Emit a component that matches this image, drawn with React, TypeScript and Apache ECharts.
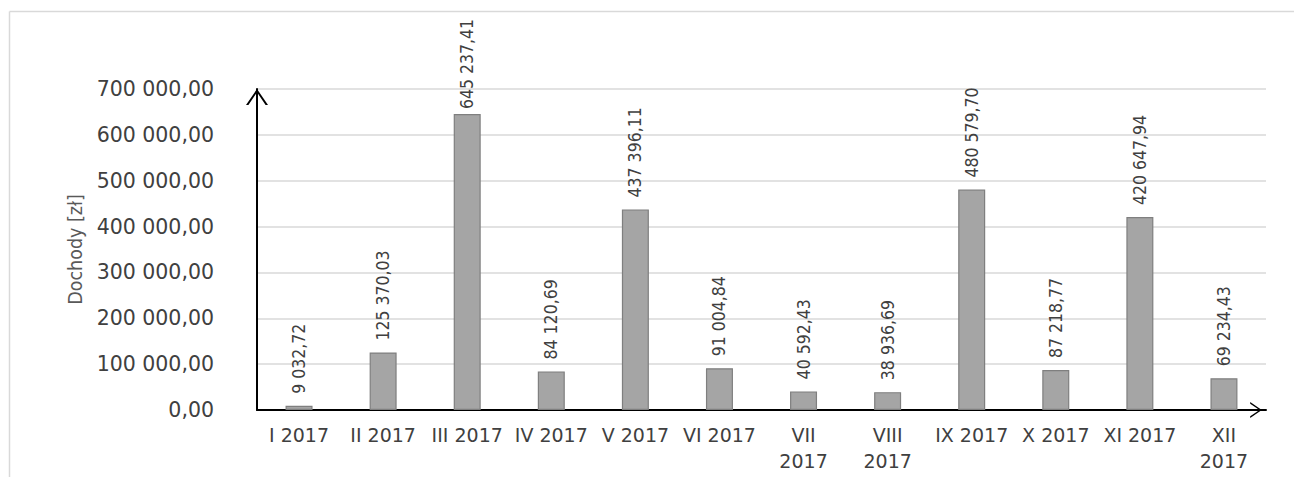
import React, { useEffect, useRef } from "react";
import * as echarts from "echarts";

const categories = [
  "I 2017", "II 2017", "III 2017", "IV 2017", "V 2017", "VI 2017",
  "VII\n2017", "VIII\n2017", "IX 2017", "X 2017", "XI 2017", "XII\n2017",
];
const incomeValues = [
  9032.72, 125370.03, 645237.41, 84120.69, 437396.11, 91004.84,
  40592.43, 38936.69, 480579.7, 87218.77, 420647.94, 69234.43,
];
const yMin = 0;
const yMax = 700000;
const yInterval = 100000;
const yAxisName = "Dochody [zł]";

const fmt = (v: number): string => {
  const [i, d] = v.toFixed(2).split(".");
  return i.replace(/\B(?=(\d{3})+(?!\d))/g, " ") + "," + d;
};

const chevron = "path://M0,16 L11,0 L22,16 L19.6,16 L11,3.2 L2.4,16 Z";
const narrow = "'Liberation Sans Narrow', 'DejaVu Sans Condensed', 'Arial Narrow', sans-serif";
const wide = "'DejaVu Sans', Verdana, sans-serif";

export default function App() {
  const ref = useRef<HTMLDivElement>(null);
  useEffect(() => {
    if (!ref.current) return;
    const chart = echarts.init(ref.current, null, { renderer: "svg" });
    chart.setOption({
      animation: false,
      backgroundColor: "#ffffff",
      grid: { left: 257, right: 28, top: 89, bottom: 67, containLabel: false },
      graphic: [
        { type: "line", shape: { x1: 9.5, y1: 11.5, x2: 1294, y2: 11.5 }, style: { stroke: "#d9d9d9", lineWidth: 1.5 }, silent: true },
        { type: "line", shape: { x1: 9.5, y1: 11.5, x2: 9.5, y2: 477 }, style: { stroke: "#d9d9d9", lineWidth: 1.5 }, silent: true },
      ],
      xAxis: {
        type: "category",
        data: categories,
        axisLine: {
          show: true,
          lineStyle: { color: "#000000", width: 2 },
          symbol: ["none", chevron],
          symbolSize: [16, 20],
          symbolOffset: [0, -10],
        },
        axisTick: { show: false },
        axisLabel: {
          interval: 0,
          margin: 12,
          color: "#404040",
          fontFamily: wide,
          fontSize: 19,
          lineHeight: 26,
        },
      },
      yAxis: {
        type: "value",
        min: yMin,
        max: yMax,
        interval: yInterval,
        name: yAxisName,
        nameLocation: "middle",
        nameRotate: 90,
        nameGap: 171,
        nameTextStyle: { color: "#595959", fontFamily: narrow, fontSize: 19.5 },
        axisLine: {
          show: true,
          lineStyle: { color: "#000000", width: 2 },
          symbol: ["none", chevron],
          symbolSize: [22, 16],
          symbolOffset: [0, -8],
        },
        axisTick: { show: false },
        splitLine: { show: true, lineStyle: { color: "#d9d9d9", width: 1.5 } },
        axisLabel: {
          margin: 43,
          color: "#404040",
          fontFamily: wide,
          fontSize: 20.5,
          formatter: (v: number) => fmt(v),
        },
      },
      series: [
        {
          type: "bar",
          data: incomeValues.map((v, i) =>
            i === 2 ? { value: v, label: { distance: 5 } } : v
          ),
          barWidth: 27,
          itemStyle: { color: "#a5a5a5", borderColor: "#7f7f7f", borderWidth: 1.2 },
          label: {
            show: true,
            position: "top",
            rotate: 90,
            align: "left",
            verticalAlign: "middle",
            distance: 12,
            color: "#404040",
            fontFamily: narrow,
            fontSize: 17.5,
            formatter: (p: any) => fmt(p.value),
          },
        },
      ],
    });
    return () => chart.dispose();
  }, []);
  return (
    <div
      ref={ref}
      style={{ position: "absolute", left: 0, top: 0, width: 1294, height: 477 }}
    />
  );
}
